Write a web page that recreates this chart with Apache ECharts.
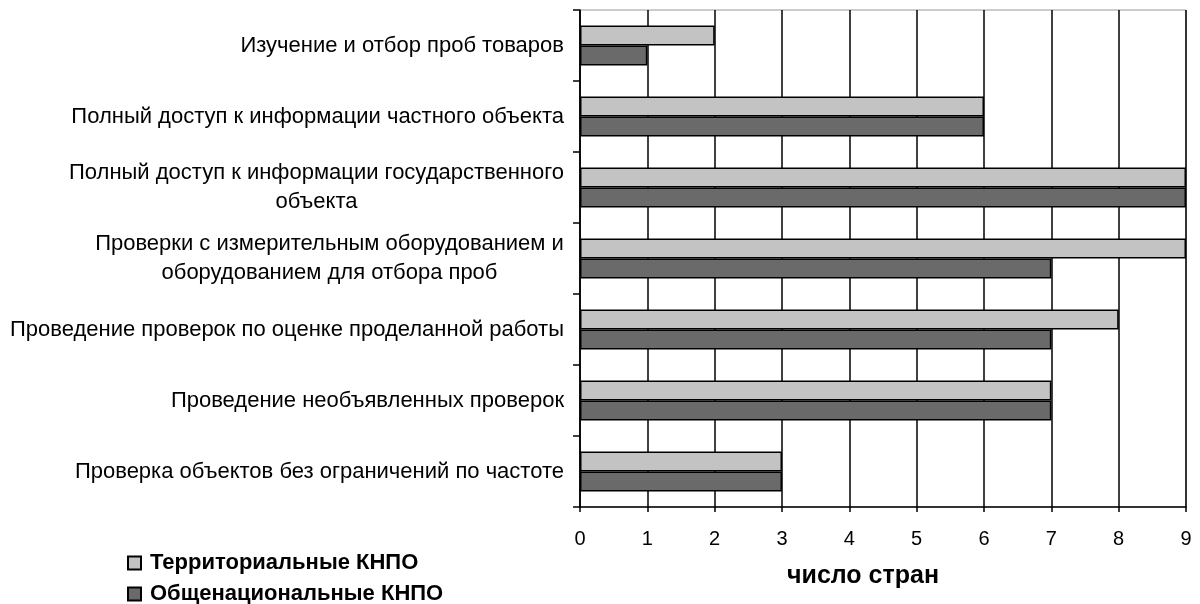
<!DOCTYPE html>
<html><head><meta charset="utf-8">
<script src="https://cdn.jsdelivr.net/npm/echarts@6/dist/echarts.min.js"></script>
<style>html,body{margin:0;padding:0;background:#fff}#c{width:1200px;height:604px}</style>
</head><body><div id="c"></div>
<script>
const categories = [
  ['Изучение и отбор проб товаров'],
  ['Полный доступ к информации частного объекта'],
  ['Полный доступ к информации государственного', 'объекта'],
  ['Проверки с измерительным оборудованием и', 'оборудованием для отбора проб'],
  ['Проведение проверок по оценке проделанной работы'],
  ['Проведение необъявленных проверок'],
  ['Проверка объектов без ограничений по частоте']
];
const seriesNames = ['Территориальные КНПО', 'Общенациональные КНПО'];
const territorial = [2, 6, 9, 9, 8, 7, 3];
const national = [1, 6, 9, 7, 7, 7, 3];
const xTicks = [0, 9, 1];
const axisName = 'число стран';

const font = 'Arial, "Liberation Sans", sans-serif';
const labelSize = 22;
const ctx = document.createElement('canvas').getContext('2d');
ctx.font = labelSize + 'px ' + font;
const rich = {n: {fontFamily: font, fontSize: labelSize, color: '#000', lineHeight: 29}};
categories.forEach((lines, i) => {
  if (lines.length > 1) {
    const w = Math.max(...lines.map(l => ctx.measureText(l).width));
    rich['m' + i] = {fontFamily: font, fontSize: labelSize, color: '#000', width: Math.ceil(w), align: 'center', lineHeight: 29};
  }
});

const chart = echarts.init(document.getElementById('c'), null, {renderer: 'canvas'});
chart.setOption({
  animation: false,
  grid: {left: 580, right: 14, top: 10, bottom: 97, show: true, borderColor: '#999', borderWidth: 1, backgroundColor: '#fff'},
  legend: {
    orient: 'vertical', left: 127, top: 552, width: 400, height: 120, padding: 0, itemWidth: 13, itemHeight: 13, itemGap: 9,
    icon: 'rect',
    textStyle: {fontFamily: font, fontSize: 22, fontWeight: 'bold', color: '#000', padding: [0, 0, 0, 4]},
    data: seriesNames
  },
  xAxis: {
    type: 'value', min: xTicks[0], max: xTicks[1], interval: xTicks[2],
    name: axisName, nameLocation: 'middle', nameGap: 57,
    nameTextStyle: {fontFamily: font, fontSize: 25, fontWeight: 'bold', color: '#000', padding: [0, 40, 0, 0]},
    axisLine: {show: true, lineStyle: {color: '#000', width: 1.5}},
    axisTick: {show: true, length: 5, lineStyle: {color: '#000', width: 1.5}},
    axisLabel: {fontFamily: font, fontSize: 20, color: '#000', margin: 22},
    splitLine: {show: true, lineStyle: {color: '#000', width: 1.5}}
  },
  yAxis: {
    type: 'category', inverse: true, data: categories.map((c, i) => 'c' + i),
    axisLine: {show: true, lineStyle: {color: '#000', width: 1.5}},
    axisTick: {show: true, length: 7, lineStyle: {color: '#000', width: 1.5}},
    axisLabel: {
      margin: 16, fontFamily: font, fontSize: labelSize, color: '#000',
      formatter: (v, i) => {
        const lines = categories[i];
        if (lines.length === 1) return '{n|' + lines[0] + '}';
        return lines.map(l => '{m' + i + '|' + l + '}').join('\n');
      },
      rich: rich
    }
  },
  series: [
    {name: seriesNames[0], type: 'bar', data: territorial, barWidth: 20, barGap: '0%',
     itemStyle: {color: '#c3c3c3', borderColor: '#000', borderWidth: 1.5}},
    {name: seriesNames[1], type: 'bar', data: national, barWidth: 20, barGap: '0%',
     itemStyle: {color: '#6a6a6a', borderColor: '#000', borderWidth: 1.5}}
  ]
});
</script></body></html>
